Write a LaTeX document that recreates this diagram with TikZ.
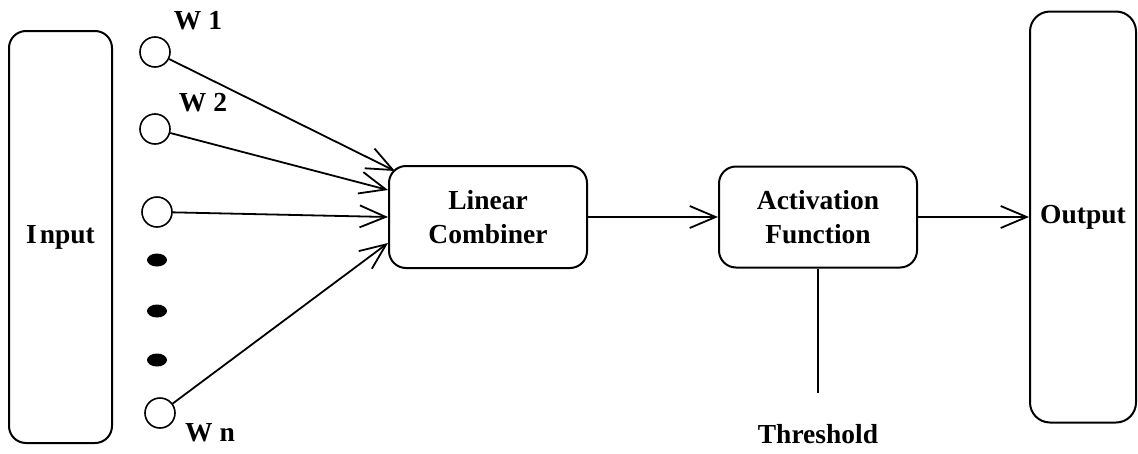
\documentclass[tikz,border=0pt]{standalone}
\usepackage{fontspec}
\setmainfont{Liberation Serif}
\usetikzlibrary{arrows.meta,calc,shapes.geometric}
\begin{document}
\begin{tikzpicture}[x=1pt,y=-1pt,
  txt/.style={font=\fontsize{27.5}{34}\selectfont\bfseries, inner sep=0, align=center},
  block/.style={txt, draw, line width=2pt, rounded corners=17pt},
  port/.style={circle, draw, line width=1.6pt, minimum size=30pt, inner sep=0},
  dot/.style={ellipse, fill=black, minimum width=20pt, minimum height=13pt, inner sep=0},
  wire/.style={line width=1.8pt, -{Straight Barb[length=26pt,width=22pt,line width=1.8pt]}},
  plain/.style={line width=1.8pt}]
\useasboundingbox (0,0) rectangle (1138,453);

% input and output columns
\node[block, minimum width=103pt, minimum height=412pt] (in) at (60.5,237) {I\kern3pt nput};
\node[block, rounded corners=20pt, minimum width=106pt, minimum height=411pt] (out) at (1083,217) {Output};

% processing blocks
\node[block, minimum width=198pt, minimum height=102pt] (lc) at (488,217) {Linear\\Combiner};
\node[block, minimum width=198pt, minimum height=101pt] (af) at (818,217) {Activation\\Function};

% weighted inputs
\node[port] (w1) at (155,52) {};
\node[port] (w2) at (155,129) {};
\node[port] (w3) at (157,212) {};
\node[port] (wn) at (160,413) {};
\node[dot] (d1) at (157,260) {};
\node[dot] (d2) at (157,311) {};
\node[dot] (d3) at (157,360) {};

\node[txt] (lw1) at (198,21) {W 1};
\node[txt] (lw2) at (203,103) {W 2};
\node[txt] (lwn) at (210,433) {W n};

% threshold input
\node[txt] (thr) at (818,434) {Threshold};
\coordinate (tend) at (818,393);

% connectors
\coordinate (e1) at ($(lc.center)+(-93,-46)$);
\coordinate (e2) at ($(lc.west)+(0,-27)$);
\coordinate (en) at ($(lc.west)+(0,26)$);
\draw[wire] (w1) -- (e1);
\draw[wire] (w2) -- (e2);
\draw[wire] (w3) -- (lc.west);
\draw[wire] (wn) -- (en);
\draw[wire] (lc.east) -- (af.west);
\draw[wire] (af.east) -- (out.west);
\draw[plain] (af.south) -- (tend);
\end{tikzpicture}
\end{document}
